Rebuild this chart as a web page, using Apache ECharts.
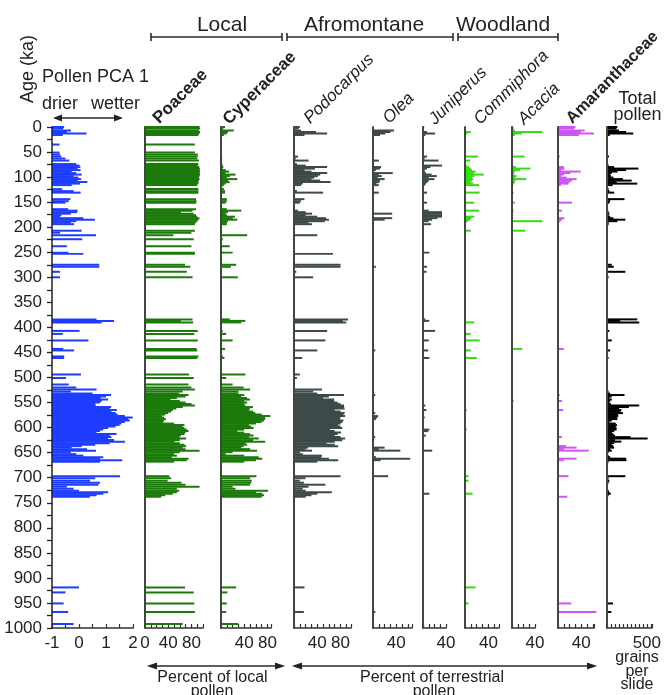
<!DOCTYPE html>
<html><head><meta charset="utf-8">
<script src="https://cdn.jsdelivr.net/npm/echarts@6/dist/echarts.min.js"></script>
<style>html,body{margin:0;padding:0;background:#fff}#c{width:664px;height:695px}</style>
</head><body><div id="c"></div>
<script>
// ---- sample ages (ka) ----
const ages = [
 0,3,7,10,13,16,
 35,51,55,59,63,67,
 74,77,80,83,86,89,92,95,98,101,104,107,110,113,116,
 124,128,131,144,148,151,
 164,167,170,173,176,179,182,185,188,191,194,
 207,211,216,224,238,251,253,275,279,289,300,
 384,387,390,407,413,426,443,446,458,461,
 494,501,514,520,524,528,532,535,538,541,
 544,547,550,553,556,559,562,565,568,571,
 574,577,580,583,586,589,592,595,598,601,
 604,607,610,613,616,619,622,625,628,631,
 634,637,640,643,646,649,653,656,659,662,
 665,668,
 697,701,706,710,714,718,722,726,729,732,735,738,
 919,929,951,968,992
];
// ---- Pollen PCA 1 ----
const pca = [
 -0.55,-0.58,-0.3,-0.45,0.28,-0.6,
 -0.72,-0.72,-0.7,-0.65,-0.5,-0.36,
 -0.1,0.02,0.05,-0.05,0.06,-0.27,-0.1,0.1,-0.2,-0.02,0.08,-0.05,0.31,0.04,-0.27,
 -0.62,-0.2,0.06,-0.32,-0.38,-0.5,
 -0.4,-0.05,-0.07,-0.3,-0.65,-0.7,0.16,0.59,-0.1,-0.3,-0.18,
 0.1,-0.7,0.63,0.12,-0.45,-0.39,0.16,0.75,0.75,-0.7,-0.7,
 0.65,1.3,0.84,0.02,-0.6,0.35,-0.58,-0.18,-0.55,-0.55,
 0.07,-0.48,-0.38,-0.1,0.65,-0.3,0.5,1.19,1.0,0.8,
 1.08,0.84,0.78,0.6,0.62,1.19,1.14,1.4,1.2,1.36,
 1.43,1.7,1.99,1.82,1.88,1.7,1.57,1.5,1.35,1.08,
 0.9,0.78,0.65,1.39,1.14,1.2,1.08,1.3,1.7,1.14,
 0.6,0.1,-0.27,0.3,0.63,-0.3,-0.1,0.16,0.9,0.78,
 1.6,0.78,
 1.52,0.6,0.41,0.78,0.72,-0.45,-0.2,0.0,1.08,0.9,0.65,0.4,
 0.0,-0.5,-0.57,-0.4,-0.2
];
// ---- Poaceae (% local) ----
const poaceae = [
 94,95,93,95,94,92,
 86,86,91,91,90,93,
 92,91,93,95,94,95,94,95,94,93,94,93,92,92,90,
 92,92,92,88,89,88,
 88,82,62,84,88,90,94,92,90,87,86,
 86,80,49,84,80,86,86,69,78,72,82,
 82,62,83,91,85,91,89,90,92,90,
 76,84,75,80,86,65,59,75,70,55,
 44,60,70,80,86,65,54,48,45,40,
 35,29,33,36,33,31,50,68,65,68,
 72,75,70,68,62,59,71,60,51,60,
 68,71,65,70,94,60,50,55,46,75,
 72,50,
 42,45,39,63,70,94,55,59,55,48,35,28,
 69,84,85,86,65
];
// ---- Cyperaceae (% local) ----
const cyperaceae = [
 7,4,22,12,10,5,
 0,0,0,0,2,2,
 2,3,4,3,8,14,8,25,15,10,28,12,15,8,5,
 5,7,7,10,10,8,
 10,35,12,8,10,24,20,28,12,10,10,
 0,0,45,3,15,20,0,26,17,0,29,
 15,42,35,3,9,20,7,2,3,6,
 42,9,20,39,50,30,30,40,35,45,
 50,40,45,40,42,55,50,48,55,59,
 70,85,76,76,74,70,60,48,52,56,
 40,28,40,50,56,48,65,55,76,42,
 45,39,35,50,62,20,8,40,65,71,
 60,40,
 61,50,53,52,50,20,25,81,60,71,74,70,
 26,11,10,9,30
];
// ---- Podocarpus (% terrestrial) ----
const podocarpus = [
 10,8,12,38,57,18,
 0,0,0,7,3,25,
 5,20,57,36,18,30,57,45,41,35,30,45,63,15,12,
 0,5,50,18,12,10,
 0,7,20,31,20,40,55,60,53,25,31,
 0,0,40,0,0,0,67,80,80,4,33,
 93,84,90,57,0,54,0,40,0,14,
 10,5,0,0,48,33,40,86,60,50,
 69,69,75,80,86,86,87,70,80,87,
 85,88,80,79,85,83,80,76,80,83,
 62,70,81,75,70,80,88,83,70,56,
 70,76,24,20,31,10,15,48,47,60,
 76,40,
 80,20,10,17,54,25,15,20,65,40,30,20,
 18,0,0,17,0
];
// ---- Olea ----
const olea = [
 0,0,36,30,21,12,
 0,0,0,0,0,10,
 0,0,14,12,5,0,34,10,15,8,20,12,11,6,10,
 0,0,10,0,0,0,
 0,0,0,33,0,0,33,20,0,0,0,
 0,0,0,0,0,0,0,0,5,0,0,
 0,0,0,0,0,0,0,4,0,0,
 0,0,0,0,0,0,0,4,0,0,
 0,0,0,0,0,0,0,0,0,4,
 0,9,7,5,0,0,0,0,0,0,
 0,0,0,0,0,4,0,0,0,0,
 0,0,20,10,47,0,0,0,5,64,
 13,0,
 26,0,0,0,0,0,0,0,0,0,0,0,
 0,0,0,4,0
];
// ---- Juniperus ----
const juniperus = [
 2,0,0,7,21,4,
 0,0,0,7,3,27,
 0,33,13,7,3,3,5,15,24,10,20,10,8,5,3,
 0,0,7,0,0,7,
 0,10,33,33,33,33,25,16,10,0,14,
 0,0,0,0,0,11,0,0,7,6,0,
 4,11,2,21,0,10,0,9,0,11,
 0,0,0,0,0,0,0,0,0,0,
 0,0,0,0,4,0,0,6,0,0,
 0,0,3,0,0,0,0,0,0,0,
 11,9,0,0,5,0,0,0,0,0,
 0,0,0,0,16,0,0,0,0,0,
 0,0,
 0,0,0,0,0,0,0,0,0,11,0,0,
 0,0,0,0,0
];
// ---- Commiphora ----
const commiphora = [
 0,0,0,10,4,0,
 0,0,0,22,0,9,
 0,3,7,10,12,18,15,32,16,12,14,12,10,14,24,
 0,0,25,0,0,16,
 0,24,0,0,0,16,11,9,5,0,0,
 10,0,0,0,0,0,0,0,0,0,0,
 0,0,16,0,10,25,0,10,0,20,
 0,0,0,0,0,0,0,0,0,0,
 0,0,0,0,0,0,0,3,0,0,
 0,0,0,0,0,0,0,0,0,0,
 3,0,0,0,0,0,0,0,0,0,
 0,0,0,0,0,0,0,0,0,0,
 0,0,
 6,0,6,0,0,0,0,0,0,13,0,0,
 18,0,6,0,0
];
// ---- Acacia ----
const acacia = [
 2,3,5,53,17,5,
 0,0,0,22,0,0,
 0,2,7,32,14,5,3,4,8,6,25,6,5,3,2,
 0,0,3,0,0,5,
 0,3,0,0,0,0,0,0,53,0,0,
 23,0,0,0,0,0,0,0,0,0,0,
 0,0,0,0,0,0,18,0,0,0,
 0,0,0,0,0,0,0,0,0,0,
 0,3,0,0,0,0,0,0,0,0,
 0,0,2,0,0,0,0,0,0,0,
 0,0,0,0,0,0,0,0,0,0,
 0,0,0,0,0,0,0,0,0,0,
 0,0,
 0,0,0,0,0,0,0,0,0,0,0,0,
 0,0,0,0,0
];
// ---- Amaranthaceae ----
const amaranthaceae = [
 30,28,46,40,62,36,
 0,0,0,3,0,0,
 0,2,10,11,6,39,21,10,5,15,32,24,20,18,5,
 0,0,0,0,0,24,
 0,7,0,0,0,0,11,7,4,0,0,
 0,0,0,0,0,0,0,0,0,0,0,
 0,0,1,0,0,0,10,0,0,0,
 0,0,0,0,0,0,0,3,0,0,
 0,7,0,0,0,0,0,9,0,0,
 0,0,0,0,0,0,0,0,0,0,
 0,0,0,0,0,7,0,0,0,0,
 0,14,32,10,53,0,0,0,0,32,
 10,0,
 18,0,0,0,0,0,0,0,0,0,0,16,
 0,0,23,66,0
];
// ---- Total pollen (grains per slide) ----
const totalPollen = [
 130,120,150,240,330,35,
 0,0,0,25,0,10,
 10,20,90,395,240,130,60,40,50,80,200,310,120,380,70,
 20,30,90,220,40,30,
 10,15,20,30,20,40,80,230,130,20,20,
 10,0,10,0,0,0,0,60,85,230,20,
 380,165,405,30,10,60,10,40,5,20,
 0,0,0,0,0,20,40,220,60,30,
 60,40,30,50,405,275,150,180,170,200,
 140,140,130,130,60,30,110,125,110,120,
 120,90,60,80,100,295,510,100,180,90,
 60,80,90,40,60,20,10,20,40,240,
 245,20,
 230,20,30,20,10,10,10,20,30,48,20,10,
 0,0,75,55,0
];
// ---- tick labels ----
const pcaTickLabels = [-1,0,1,2];
const poaceaeTickLabels = [0,40,80];
const pctTickLabels = [40,80];
const smallPctTickLabels = [40];
const totalTickLabels = [500];

const FONT = '"Liberation Sans", Arial, Helvetica, sans-serif';
const TOP = 127, HEIGHT = 501, CAP = 2.0, OVERLAP = 0.5;
const BLUE = '#1f3dff', DKGREEN = '#1b7a0a', SLATE = '#3e4a4a', LTGREEN = '#35dc12', MAG = '#cf55f5';

const fmtOf = list => v => list.some(t => Math.abs(t - v) < 1e-6) ? String(v) : '';

const panels = [
  {vals:pca, left:52, width:81, min:-1, max:2, interval:0.5, base:-1, color:BLUE, fmt:fmtOf(pcaTickLabels)},
  {vals:poaceae, left:145, width:58, min:0, max:100, interval:10, base:0, color:DKGREEN, fmt:fmtOf(poaceaeTickLabels)},
  {vals:cyperaceae, left:221, width:50, min:0, max:86, interval:10, base:0, color:DKGREEN, fmt:fmtOf(pctTickLabels)},
  {vals:podocarpus, left:294, width:57, min:0, max:98, interval:10, base:0, color:SLATE, fmt:fmtOf(pctTickLabels)},
  {vals:olea, left:373, width:39, min:0, max:67, interval:10, base:0, color:SLATE, fmt:fmtOf(smallPctTickLabels)},
  {vals:juniperus, left:423, width:23, min:0, max:40, interval:10, base:0, color:SLATE, fmt:fmtOf(smallPctTickLabels)},
  {vals:commiphora, left:465, width:34, min:0, max:58, interval:10, base:0, color:LTGREEN, fmt:fmtOf(smallPctTickLabels)},
  {vals:acacia, left:512, width:23, min:0, max:40, interval:10, base:0, color:LTGREEN, fmt:fmtOf(smallPctTickLabels)},
  {vals:amaranthaceae, left:558, width:36, min:0, max:62, interval:10, base:0, color:MAG, fmt:fmtOf(smallPctTickLabels)},
  {vals:totalPollen, left:607, width:51, min:0, max:563, interval:50, base:0, color:'#000', fmt:fmtOf(totalTickLabels)}
];

const half = ages.map((a, i) => {
  const gp = i > 0 ? a - ages[i-1] : Infinity;
  const gn = i < ages.length - 1 ? ages[i+1] - a : Infinity;
  return [Math.min(gp/2 + OVERLAP, CAP), Math.min(gn/2 + OVERLAP, CAP)];
});

const grid = [], xAxis = [], yAxis = [], series = [];
panels.forEach((p, k) => {
  grid.push({left:p.left, width:p.width, top:TOP, height:HEIGHT});
  xAxis.push({gridIndex:k, type:'value', min:p.min, max:p.max, interval:p.interval, position:'bottom',
    axisLine:{show:true, onZero:false, lineStyle:{color:'#333', width:1.5}},
    axisTick:{show:true, inside:true, length:4, lineStyle:{color:'#333', width:1.2}},
    axisLabel:{show:true, margin:7, fontSize:17, color:'#222', fontFamily:FONT, formatter:p.fmt},
    splitLine:{show:false}});
  yAxis.push({gridIndex:k, type:'value', min:0, max:1000, inverse:true, interval:25, z:5,
    axisLine:{show:true, onZero:false, lineStyle:{color:k===0?'#222':'#444', width:k===0?1.5:2}},
    axisTick:{show:k===0, length:5, lineStyle:{color:'#222', width:1.3}},
    axisLabel:{show:k===0, margin:10, fontSize:17, color:'#222', fontFamily:FONT,
      formatter:v => (v % 50 === 0 ? String(v) : '')},
    splitLine:{show:false}});
  const base = p.base, color = p.color;
  series.push({type:'custom', xAxisIndex:k, yAxisIndex:k, silent:true, clip:false,
    encode:{x:0, y:1},
    data: ages.map((a, i) => [p.vals[i], a, a - half[i][0], a + half[i][1]]),
    renderItem: (params, api) => {
      const v = api.value(0);
      if (!(v > base)) return null;
      const p0 = api.coord([base, api.value(2)]);
      const p1 = api.coord([v, api.value(3)]);
      return {type:'rect', shape:{x:p0[0], y:p0[1], width:p1[0]-p0[0], height:p1[1]-p0[1]},
        style:{fill:color}};
    }});
});

const graphics = [];
function txt(s, x, y, o) {
  o = o || {};
  const al = o.align || 'center', va = o.va || 'middle';
  graphics.push({type:'text', x:x, y:y, rotation:o.rot || 0, silent:true, z:10,
    style:{text:s, fill:o.color || '#222',
      font:(o.style || 'normal') + ' ' + (o.weight || 'normal') + ' ' + (o.size || 17) + 'px ' + FONT,
      textAlign:al, textVerticalAlign:va, align:al, verticalAlign:va}});
}
function line(x1, y1, x2, y2, w) {
  graphics.push({type:'line', silent:true, z:10, shape:{x1, y1, x2, y2}, style:{stroke:'#2a2a2a', lineWidth:w || 1.5}});
}
function head(x, y, dir, L, W) {
  graphics.push({type:'polygon', silent:true, z:10, shape:{points:[[x, y], [x + dir*L, y - W], [x + dir*L, y + W]]}, style:{fill:'#222'}});
}
function arrow(x1, x2, y, L, W) { line(x1 + 2, y, x2 - 2, y, 1.5); head(x1, y, 1, L, W); head(x2, y, -1, L, W); }
function bracket(x1, x2, y) { line(x1, y, x2, y, 1.6); line(x1, y - 4, x1, y + 4, 1.6); line(x2, y - 4, x2, y + 4, 1.6); }

// group headers
txt('Local', 222, 25, {size:21});
txt('Afromontane', 364, 25, {size:21});
txt('Woodland', 503, 25, {size:21});
bracket(151, 282, 37); bracket(287, 453, 37); bracket(458, 558, 37);

// left titles
txt('Age (ka)', 28, 69, {size:18, rot:Math.PI/2});
txt('Pollen PCA 1', 42, 77, {size:18, align:'left'});
txt('drier', 42, 104, {size:18, align:'left'});
txt('wetter', 91, 104, {size:18, align:'left'});
arrow(53, 123, 118, 9, 3.4);

// taxon labels (rotated 45°)
const R = Math.PI/4, DX = 8, DY = 3;
txt('Poaceae', 154 + DX, 124 + DY, {size:17, weight:'bold', rot:R, align:'left', va:'bottom'});
txt('Cyperaceae', 224 + DX, 125 + DY, {size:17, weight:'bold', rot:R, align:'left', va:'bottom'});
txt('Podocarpus', 305 + DX, 124 + DY, {size:17, style:'italic', rot:R, align:'left', va:'bottom'});
txt('Olea', 384 + DX, 124 + DY, {size:17, style:'italic', rot:R, align:'left', va:'bottom'});
txt('Juniperus', 430 + DX, 125 + DY, {size:17, style:'italic', rot:R, align:'left', va:'bottom'});
txt('Commiphora', 475 + DX, 125 + DY, {size:17, style:'italic', rot:R, align:'left', va:'bottom'});
txt('Acacia', 519 + DX, 125 + DY, {size:17, style:'italic', rot:R, align:'left', va:'bottom'});
txt('Amaranthaceae', 567 + DX, 124 + DY, {size:16.5, weight:'bold', rot:R, align:'left', va:'bottom'});
txt('Total', 637.5, 99.5, {size:18});
txt('pollen', 637.5, 115, {size:18});

// bottom notes
arrow(147, 285, 666, 10, 3.5);
arrow(292, 597, 666, 10, 3.5);
txt('Percent of local', 212.5, 677.5, {size:16});
txt('pollen', 212, 691.5, {size:16});
txt('Percent of terrestrial', 432, 677.5, {size:16});
txt('pollen', 434, 691.5, {size:16});
txt('grains', 637, 658, {size:16});
txt('per', 637, 671.5, {size:16});
txt('slide', 637, 685, {size:16});

const chart = echarts.init(document.getElementById('c'));
chart.setOption({animation:false, backgroundColor:'#fff', grid, xAxis, yAxis, series, graphic:{elements:graphics}});
</script>
</body></html>
